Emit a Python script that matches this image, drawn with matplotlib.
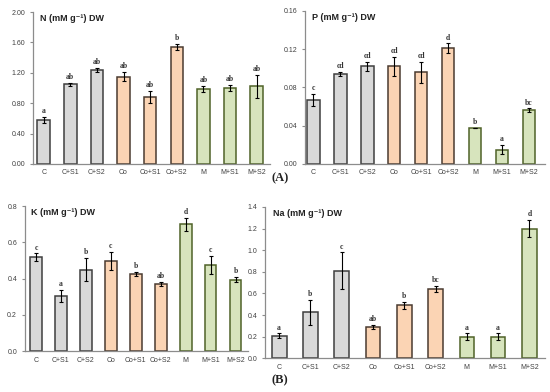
import matplotlib.pyplot as plt

# Data
groups = ['C', 'C+S1', 'C+S2', 'Co', 'Co+S1', 'Co+S2', 'M', 'M+S1', 'M+S2']

n_vals = [0.58, 1.05, 1.24, 1.15, 0.88, 1.54, 0.99, 1.00, 1.02]
n_err = [0.04, 0.02, 0.03, 0.06, 0.08, 0.04, 0.04, 0.04, 0.15]
n_let = ['a', 'ab', 'ab', 'ab', 'ab', 'b', 'ab', 'ab', 'ab']

p_vals = [0.067, 0.094, 0.102, 0.102, 0.096, 0.121, 0.038, 0.015, 0.056]
p_err = [0.006, 0.002, 0.005, 0.010, 0.011, 0.005, 0.0, 0.005, 0.002]
p_let = ['c', 'cd', 'cd', 'cd', 'cd', 'd', 'b', 'a', 'bc']

k_vals = [0.52, 0.305, 0.45, 0.50, 0.425, 0.37, 0.70, 0.475, 0.395]
k_err = [0.02, 0.035, 0.065, 0.05, 0.012, 0.012, 0.035, 0.05, 0.015]
k_let = ['c', 'a', 'b', 'c', 'b', 'ab', 'd', 'c', 'b']

na_vals = [0.21, 0.425, 0.81, 0.29, 0.49, 0.64, 0.20, 0.20, 1.20]
na_err = [0.02, 0.115, 0.17, 0.02, 0.035, 0.03, 0.03, 0.03, 0.08]
na_let = ['a', 'b', 'c', 'ab', 'b', 'bc', 'a', 'a', 'd']

fills = ['#d9d9d9'] * 3 + ['#fbd4b4'] * 3 + ['#d7e4bd'] * 3
edges = ['#3f3f3f'] * 3 + ['#4a3b30'] * 3 + ['#4f6228'] * 3

sans = ['Liberation Sans', 'DejaVu Sans']
plt.rcParams['font.family'] = sans

fig = plt.figure(figsize=(5.5, 3.92), dpi=100)


def panel(rect, vals, err, letters, title, ylim, ticks, fmt, xlim):
    ax = fig.add_axes(rect)
    x = range(len(groups))
    ax.bar(x, vals, width=0.47, color=fills, edgecolor=edges, linewidth=1.1)
    ax.errorbar(x, vals, yerr=err, fmt='none', ecolor='black', elinewidth=0.8,
                capsize=1.5, capthick=0.8)
    off = (ylim[1] - ylim[0]) * 0.012
    for i, (v, e, l) in enumerate(zip(vals, err, letters)):
        ax.text(i, v + e + off, l, ha='center', va='bottom', fontsize=5.5,
                family='Liberation Serif', fontweight='bold', color='#333333')
    ax.set_xlim(*xlim)
    ax.set_ylim(*ylim)
    ax.set_yticks(ticks)
    ax.set_yticklabels([fmt.format(t) for t in ticks])
    ax.set_xticks(list(x))
    ax.set_xticklabels(groups)
    for s in ['top', 'right']:
        ax.spines[s].set_visible(False)
    for s in ['left', 'bottom']:
        ax.spines[s].set_color('#8c8c8c')
        ax.spines[s].set_linewidth(0.9)
    ax.tick_params(axis='both', labelsize=5, colors='#8c8c8c', labelcolor='#404040',
                   length=2, width=0.8)
    ax.tick_params(axis='x', length=0, pad=4)
    ax.text(0.03, 0.985, title, transform=ax.transAxes, ha='left', va='top',
            fontsize=6.5, fontweight='bold', family=sans, color='#222222')
    return ax


panel([0.06, 0.582, 0.431, 0.387], n_vals, n_err, n_let, 'N (mM g\u207b\u00b9) DW',
      (0, 2.0), [0, 0.4, 0.8, 1.2, 1.6, 2.0], '{:.2f}', (-0.4, 8.5))
panel([0.555, 0.582, 0.436, 0.390], p_vals, p_err, p_let, 'P (mM g\u207b\u00b9) DW',
      (0, 0.16), [0, 0.04, 0.08, 0.12, 0.16], '{:.2f}', (-0.3, 8.6))
panel([0.045, 0.104, 0.406, 0.37], k_vals, k_err, k_let, 'K (mM g\u207b\u00b9) DW',
      (0, 0.8), [0, 0.2, 0.4, 0.6, 0.8], '{:.1f}', (-0.45, 8.5))
panel([0.482, 0.086, 0.509, 0.386], na_vals, na_err, na_let, 'Na (mM g\u207b\u00b9) DW',
      (0, 1.4), [0, 0.2, 0.4, 0.6, 0.8, 1.0, 1.2, 1.4], '{:.1f}', (-0.45, 8.5))

fig.text(0.509, 0.545, '(A)', ha='center', va='center', fontsize=9,
         family='Liberation Serif', fontweight='bold', color='#222222')
fig.text(0.509, 0.030, '(B)', ha='center', va='center', fontsize=9,
         family='Liberation Serif', fontweight='bold', color='#222222')

fig.savefig('out.png', dpi=100)
